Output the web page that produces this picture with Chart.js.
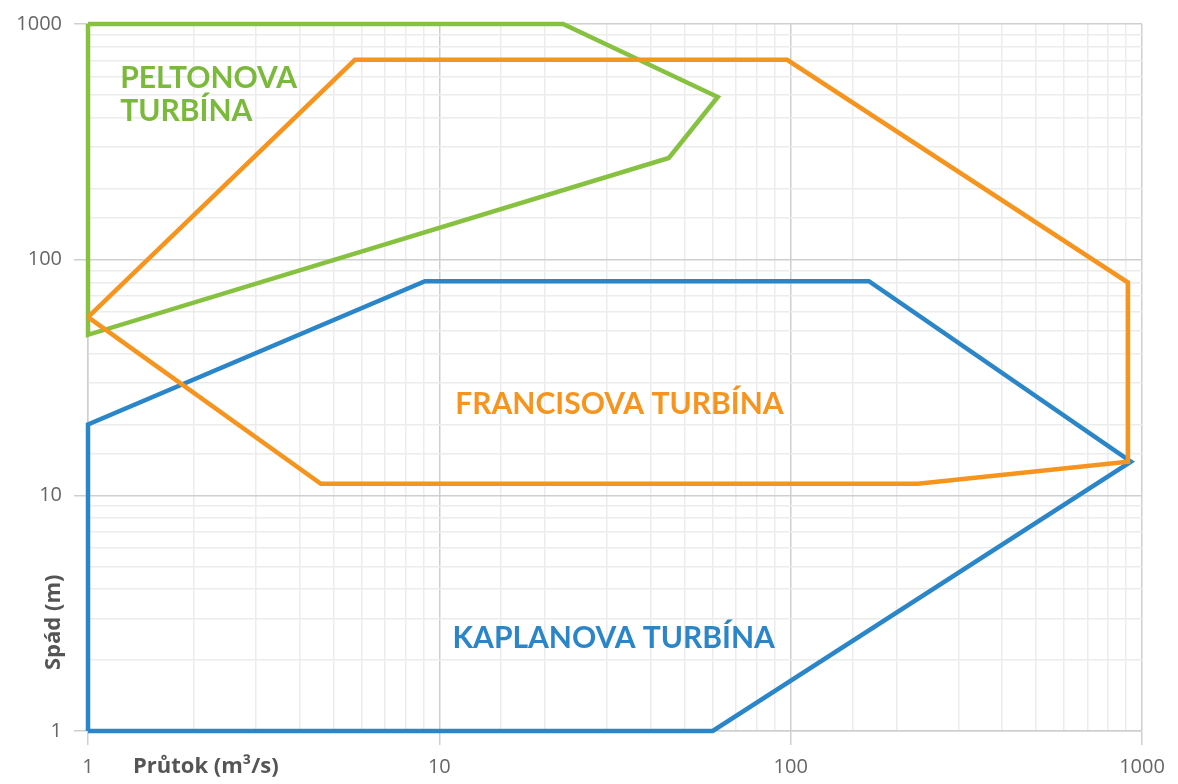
<!DOCTYPE html>
<html>
<head>
<meta charset="utf-8">
<script src="https://cdn.jsdelivr.net/npm/chart.js@4.4.0/dist/chart.umd.min.js"></script>
<style>
  html, body { margin: 0; padding: 0; background: #fff; }
  #wrap { width: 1178px; height: 784px; }
</style>
</head>
<body>
<div id="wrap"><canvas id="turbineChart"></canvas></div>
<script>
// průtok (m3/s) a spád (m) – obrysy oblastí turbín
const peltonX = [1, 22.5, 62, 45, 1, 1];
const peltonY = [1000, 1000, 490, 270, 48, 1000];

const francisX = [1, 5.75, 97.7, 912, 912, 230, 4.6, 1];
const francisY = [57, 705, 705, 80, 13.9, 11.2, 11.2, 57];

const kaplanX = [1, 1, 9.1, 167, 930, 60, 1];
const kaplanY = [1, 20, 81, 81, 13.9, 1, 1];

const axisTicks = [1, 10, 100, 1000];

const GREEN = '#86C140';
const ORANGE = '#F7941D';
const BLUE = '#2A86C8';

function points(xs, ys) {
    return xs.map((x, i) => ({ x: x, y: ys[i] }));
}

function isDecade(v) {
    return axisTicks.includes(v);
}

// popisky oblastí, umístěné v souřadnicích dat
const areaLabels = [
    { lines: ['PELTONOVA', 'TURBÍNA'], x: 1.235, y: 590, color: '#7AB93A' },
    { lines: ['FRANCISOVA TURBÍNA'], x: 11.1, y: 24.3, color: ORANGE },
    { lines: ['KAPLANOVA TURBÍNA'], x: 10.9, y: 2.47, color: BLUE }
];

const labelPlugin = {
    id: 'labels',
    afterDatasetsDraw(chart) {
        const ctx = chart.ctx;
        const xs = chart.scales.x, ys = chart.scales.y;
        ctx.save();
        ctx.font = 'bold 30px Lato, "Open Sans", sans-serif';
        ctx.textBaseline = 'middle';
        ctx.textAlign = 'left';
        areaLabels.forEach(l => {
            const px = xs.getPixelForValue(l.x);
            const py = ys.getPixelForValue(l.y);
            ctx.fillStyle = l.color;
            l.lines.forEach((t, i) => ctx.fillText(t, px, py + i * 33));
        });

        // názvy os
        ctx.fillStyle = '#555';
        ctx.font = 'bold 22px "Open Sans", sans-serif';
        ctx.fillText('Průtok (m³/s)', 133, 767);
        ctx.translate(54, 670);
        ctx.rotate(-Math.PI / 2);
        ctx.fillText('Spád (m)', 0, 0);
        ctx.restore();
    }
};

const gridColor = c => isDecade(c.tick && c.tick.value) ? '#cfcfcf' : '#ececec';
const tickMarkColor = c => isDecade(c.tick && c.tick.value) ? '#cfcfcf' : 'rgba(0,0,0,0)';

const chart = new Chart(document.getElementById('turbineChart'), {
    type: 'scatter',
    data: {
        datasets: [
            { label: 'Francisova turbína', data: points(francisX, francisY), borderColor: ORANGE },
            { label: 'Kaplanova turbína', data: points(kaplanX, kaplanY), borderColor: BLUE },
            { label: 'Peltonova turbína', data: points(peltonX, peltonY), borderColor: GREEN }
        ]
    },
    options: {
        responsive: true,
        maintainAspectRatio: false,
        animation: false,
        layout: { padding: { top: 24, right: 36, left: 0, bottom: 0 } },
        datasets: {
            scatter: {
                showLine: true,
                borderWidth: 4.5,
                pointRadius: 0,
                pointHoverRadius: 0,
                clip: false,
                borderJoinStyle: 'miter'
            }
        },
        plugins: {
            legend: { display: false },
            tooltip: { enabled: false }
        },
        scales: {
            x: {
                type: 'logarithmic',
                min: 1,
                max: 1000,
                afterFit: s => { s.height = 53; },
                grid: { color: gridColor, tickColor: tickMarkColor, tickLength: 14, lineWidth: 1.5 },
                border: { color: '#cfcfcf', width: 1.5 },
                ticks: {
                    autoSkip: false,
                    maxRotation: 0,
                    padding: 10,
                    color: '#666',
                    font: { family: '"Open Sans", sans-serif', size: 20 },
                    callback: v => isDecade(v) ? String(v) : ''
                }
            },
            y: {
                type: 'logarithmic',
                min: 1,
                max: 1000,
                afterFit: s => { s.width = 88; },
                grid: { color: gridColor, tickColor: tickMarkColor, tickLength: 14, lineWidth: 1.5 },
                border: { color: '#cfcfcf', width: 1.5 },
                ticks: {
                    autoSkip: false,
                    padding: 12,
                    color: '#666',
                    font: { family: '"Open Sans", sans-serif', size: 20 },
                    callback: v => isDecade(v) ? String(v) : ''
                }
            }
        }
    },
    plugins: [labelPlugin]
});
</script>
</body>
</html>
